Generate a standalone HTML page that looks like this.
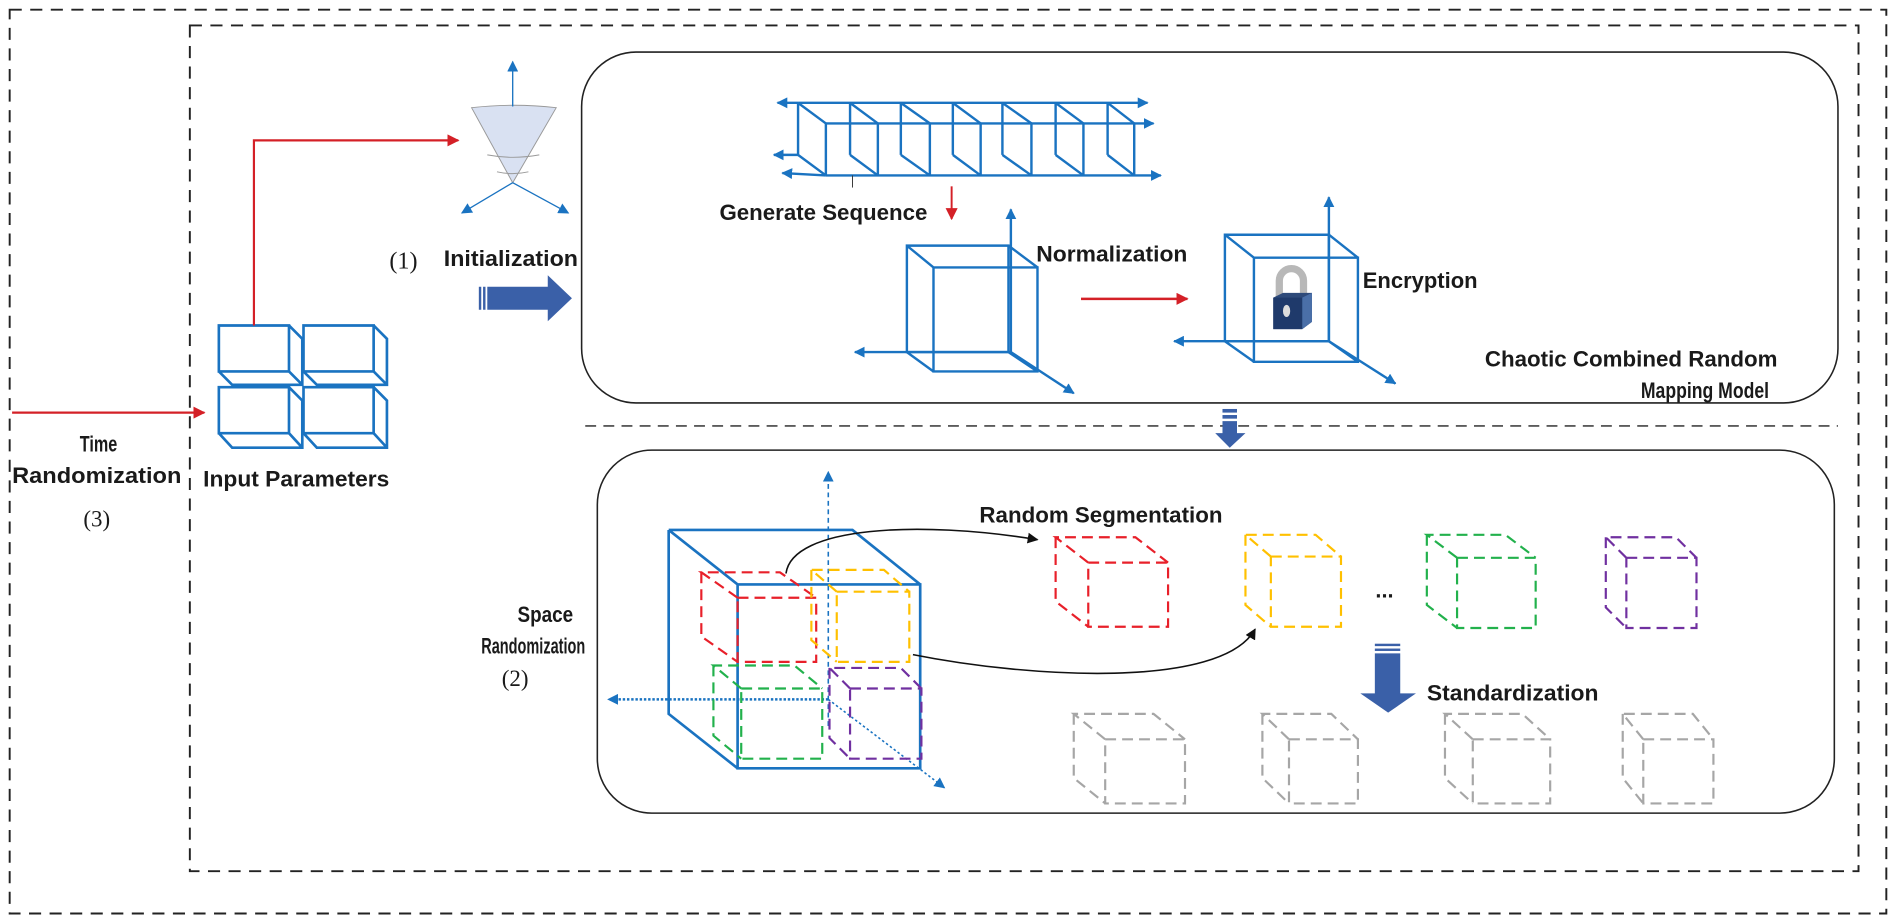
<!DOCTYPE html>
<html><head><meta charset="utf-8"><style>
html,body{margin:0;padding:0;background:#fff;}
svg{display:block;}
.t{font-family:"Liberation Sans",sans-serif;font-weight:bold;fill:#1a1a1a;}
.s{font-family:"Liberation Serif",serif;fill:#1a1a1a;}
</style></head><body>
<svg width="1896" height="922" viewBox="0 0 1568 762" preserveAspectRatio="none" xmlns="http://www.w3.org/2000/svg">
<defs>
<marker id="ab" viewBox="0 0 10 10" refX="9" refY="5" markerWidth="9" markerHeight="9" markerUnits="userSpaceOnUse" orient="auto"><path d="M0 0L10 5L0 10z" fill="#1a73c1"/></marker>
<marker id="ar" viewBox="0 0 10 10" refX="9" refY="5" markerWidth="10" markerHeight="10" markerUnits="userSpaceOnUse" orient="auto"><path d="M0 0L10 5L0 10z" fill="#d42027"/></marker>
<marker id="ak" viewBox="0 0 10 10" refX="9" refY="5" markerWidth="9" markerHeight="9" markerUnits="userSpaceOnUse" orient="auto"><path d="M0 0L10 5L0 10z" fill="#111"/></marker>
</defs>
<rect x="8" y="8" width="1552" height="747" fill="none" stroke="#222" stroke-width="1.6" stroke-dasharray="10,7"/>
<rect x="157" y="21" width="1380" height="699" fill="none" stroke="#222" stroke-width="1.6" stroke-dasharray="10,7"/>
<rect x="481" y="43" width="1039" height="290" rx="45" fill="none" stroke="#222" stroke-width="1.3"/>
<line x1="484" y1="352" x2="1520" y2="352" stroke="#444" stroke-width="1.3" stroke-dasharray="9,6"/>
<rect x="494" y="372" width="1023" height="300" rx="45" fill="none" stroke="#222" stroke-width="1.3"/>

<line x1="10" y1="341" x2="169" y2="341" stroke="#d42027" stroke-width="1.8" marker-end="url(#ar)"/>
<text class="t" x="66" y="373" font-size="18" textLength="31" lengthAdjust="spacingAndGlyphs">Time</text>
<text class="t" x="10" y="399" font-size="18" textLength="140" lengthAdjust="spacingAndGlyphs">Randomization</text>
<text class="s" x="80" y="435" font-size="19" text-anchor="middle">(3)</text>

<g fill="none" stroke="#1a73c1" stroke-width="2.2">
<path d="M181 269h58v38h-58z M239 269l11 11v38h-58l-11-11 M239 307l11 11"/>
<path d="M251 269h58v38h-58z M309 269l11 11v38h-58l-11-11 M309 307l11 11"/>
<path d="M181 320h58v38h-58z M239 320l11 11v39h-58l-11-12 M239 358l11 12"/>
<path d="M251 320h58v38h-58z M309 320l11 11v39h-58l-11-12 M309 358l11 12"/>
</g>
<text class="t" x="168" y="402" font-size="18" textLength="154" lengthAdjust="spacingAndGlyphs">Input Parameters</text>
<polyline points="210,269 210,116 379,116" fill="none" stroke="#d42027" stroke-width="1.8" marker-end="url(#ar)"/>

<path d="M390 89 Q425 85 460 89 L424 151 Z" fill="#d9e1f2" stroke="#999" stroke-width="0.8"/>
<path d="M403 128 Q424 132 446 128 M411 142 Q424 145 437 142" fill="none" stroke="#999" stroke-width="0.8"/>
<g stroke="#1a73c1" stroke-width="1.1" fill="none">
<line x1="424" y1="88" x2="424" y2="51" marker-end="url(#ab)"/>
<line x1="424" y1="151" x2="382" y2="176" marker-end="url(#ab)"/>
<line x1="424" y1="151" x2="470" y2="176" marker-end="url(#ab)"/>
</g>
<text class="s" x="322" y="222" font-size="20">(1)</text>
<text class="t" x="367" y="220" font-size="18" textLength="111" lengthAdjust="spacingAndGlyphs">Initialization</text>
<path d="M403 237H453V227.5L473 246.5L453 265.5V256H403Z" fill="#3a60a8"/>
<rect x="396" y="237" width="2" height="19" fill="#3a60a8"/><rect x="399.5" y="237" width="2" height="19" fill="#3a60a8"/>

<g stroke="#1a73c1" stroke-width="2" fill="none">
<line x1="660" y1="85" x2="643" y2="85" marker-end="url(#ab)"/>
<line x1="660" y1="85" x2="949" y2="85" marker-end="url(#ab)"/>
<line x1="683" y1="102" x2="954" y2="102" marker-end="url(#ab)"/>
<line x1="660" y1="128" x2="640" y2="128" marker-end="url(#ab)"/>
<line x1="683" y1="145" x2="647" y2="143" marker-end="url(#ab)"/>
<line x1="683" y1="145" x2="960" y2="145" marker-end="url(#ab)"/>
<path d="M660 85v43M703 85v43M745 85v43M788 85v43M829 85v43M873 85v43M916 85v43
M683 102v43M726 102v43M769 102v43M811 102v43M853 102v43M896 102v43M938 102v43
M660 85l23 17M703 85l23 17M745 85l24 17M788 85l23 17M829 85l24 17M873 85l23 17M916 85l22 17
M660 128l23 17M703 128l23 17M745 128l24 17M788 128l23 17M829 128l24 17M873 128l23 17M916 128l22 17"/>
</g>
<line x1="705" y1="145" x2="705" y2="155" stroke="#333" stroke-width="0.8"/>
<text class="t" x="595" y="182" font-size="18" textLength="172" lengthAdjust="spacingAndGlyphs">Generate Sequence</text>
<line x1="787" y1="154" x2="787" y2="181" stroke="#d42027" stroke-width="1.6" marker-end="url(#ar)"/>

<g stroke="#1a73c1" stroke-width="2" fill="none">
<path d="M772 221h86v86h-86z M750 203h84v88h-84z M750 203l22 18 M834 203l24 18 M750 291l22 16 M834 291l24 16"/>
<line x1="836" y1="291" x2="836" y2="173" marker-end="url(#ab)"/>
<line x1="836" y1="291" x2="707" y2="291" marker-end="url(#ab)"/>
<line x1="836" y1="291" x2="888" y2="325" marker-end="url(#ab)"/>
</g>
<text class="t" x="857" y="216" font-size="18" textLength="125" lengthAdjust="spacingAndGlyphs">Normalization</text>
<line x1="894" y1="247" x2="982" y2="247" stroke="#d42027" stroke-width="2" marker-end="url(#ar)"/>

<g stroke="#1a73c1" stroke-width="2" fill="none">
<path d="M1037 213h86v86h-86z M1013 194h86v88h-86z M1013 194l24 19 M1099 194l24 19 M1013 282l24 17 M1099 282l24 17"/>
<line x1="1099" y1="282" x2="1099" y2="163" marker-end="url(#ab)"/>
<line x1="1099" y1="282" x2="971" y2="282" marker-end="url(#ab)"/>
<line x1="1099" y1="282" x2="1154" y2="317" marker-end="url(#ab)"/>
</g>
<path d="M1058 246v-14a10 10 0 0 1 20 0v14" fill="none" stroke="#b8b8b8" stroke-width="6"/>
<path d="M1053 246l8 -4h24v24l-8 6h-24z" fill="#2e4a7a"/>
<path d="M1053 246h24v26h-24z" fill="#1f3a6b"/>
<path d="M1077 246l8-4v24l-8 6z" fill="#4a6fa8"/>
<ellipse cx="1064" cy="257" rx="3" ry="5" fill="#ddd"/>
<text class="t" x="1127" y="238" font-size="18" textLength="95" lengthAdjust="spacingAndGlyphs">Encryption</text>
<text class="t" x="1228" y="303" font-size="18" textLength="242" lengthAdjust="spacingAndGlyphs">Chaotic Combined Random</text>
<text class="t" x="1357" y="329" font-size="18" textLength="106" lengthAdjust="spacingAndGlyphs">Mapping Model</text>

<rect x="1011" y="338" width="12" height="3" fill="#3a60a8"/>
<rect x="1011" y="343" width="12" height="3" fill="#3a60a8"/>
<path d="M1011 348h12v10h7l-13 12l-12-12h6z" fill="#3a60a8"/>

<g stroke="#1a73c1" fill="none">
<line x1="685" y1="600" x2="685" y2="390" stroke-width="1.3" stroke-dasharray="4,3" marker-end="url(#ab)"/>
<line x1="685" y1="578" x2="503" y2="578" stroke-width="2" stroke-dasharray="2,1.5" marker-end="url(#ab)"/>
<line x1="685" y1="578" x2="781" y2="651" stroke-width="1.3" stroke-dasharray="2,2" marker-end="url(#ab)"/>
<path stroke-width="2.2" d="M610 483h151v152h-151z M553 438h152l56 45 M553 438v152l57 45 M553 438l57 45"/>
</g>
<g fill="none" stroke-width="1.8" stroke-dasharray="9,5">
<path stroke="#e8202a" d="M610 494h65v53h-65zl-30-21h65l30 21M580 473v53l30 21"/>
<path stroke="#ffc000" d="M692 489h60v58h-60zl-21-18h60l21 18M671 471v58l21 18"/>
<path stroke="#22b14c" d="M613 569h67v58h-67zl-23-19h67l23 19M590 550v58l23 19"/>
<path stroke="#7030a0" d="M703 569h59v58h-59zl-17-17h59l17 17M686 552v58l17 17"/>
<path stroke="#e8202a" d="M900 465h66v53h-66zl-27-21h66l27 21M873 444v53l27 21"/>
<path stroke="#ffc000" d="M1051 460h58v58h-58zl-21-18h58l21 18M1030 442v58l21 18"/>
<path stroke="#22b14c" d="M1205 461h65v58h-65zl-25-19h65l25 19M1180 442v58l25 19"/>
<path stroke="#7030a0" d="M1345 461h58v58h-58zl-17-17h58l17 17M1328 444v58l17 17"/>
<g stroke="#a6a6a6">
<path d="M914 611h66v53h-66zl-26-21h66l26 21M888 590v53l26 21"/>
<path d="M1066 611h57v53h-57zl-22-21h57l22 21M1044 590v53l22 21"/>
<path d="M1218 611h64v53h-64zl-23-21h64l23 21M1195 590v53l23 21"/>
<path d="M1359 611h58v53h-58zl-17-21h58l17 21M1342 590v53l17 21"/>
</g>
</g>
<text class="t" x="1145" y="494" font-size="18" text-anchor="middle">...</text>
<text class="t" x="810" y="432" font-size="18" textLength="201" lengthAdjust="spacingAndGlyphs">Random Segmentation</text>
<path d="M650 474C655 435 760 430 858 446" fill="none" stroke="#111" stroke-width="1.3" marker-end="url(#ak)"/>
<path d="M755 541C850 560 1010 570 1038 520" fill="none" stroke="#111" stroke-width="1.3" marker-end="url(#ak)"/>
<text class="t" x="428" y="514" font-size="18" textLength="46" lengthAdjust="spacingAndGlyphs">Space</text>
<text class="t" x="398" y="540" font-size="18" textLength="86" lengthAdjust="spacingAndGlyphs">Randomization</text>
<text class="s" x="426" y="567" font-size="19" text-anchor="middle">(2)</text>
<rect x="1137" y="532" width="21" height="2" fill="#3a60a8"/>
<rect x="1137" y="536" width="21" height="2" fill="#3a60a8"/>
<path d="M1137 540h21v33h13l-23 16l-23-16h12z" fill="#3a60a8"/>
<text class="t" x="1180" y="579" font-size="18" textLength="142" lengthAdjust="spacingAndGlyphs">Standardization</text>
</svg>
</body></html>
